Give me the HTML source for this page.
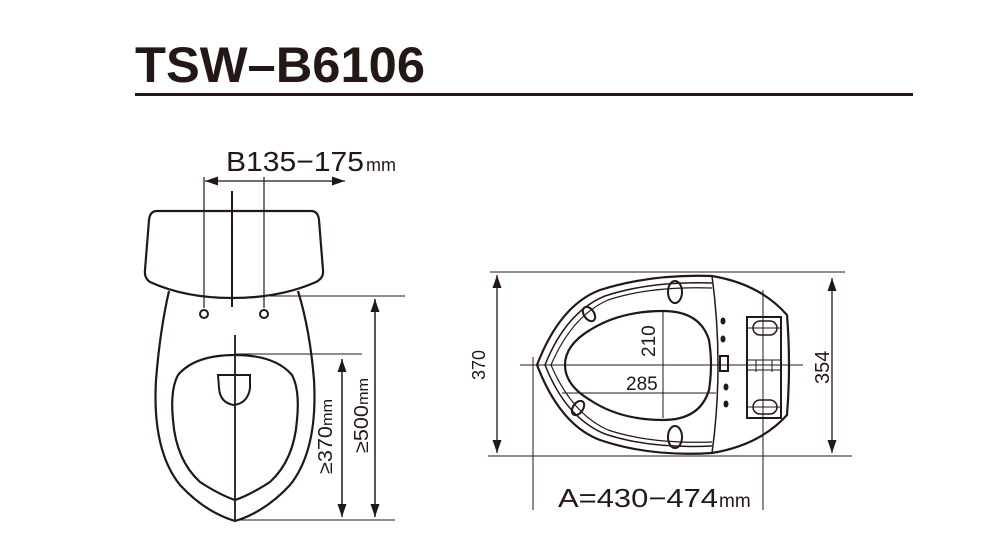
<!DOCTYPE html>
<html><head><meta charset="utf-8"><style>
html,body{margin:0;padding:0;background:#fff;}
svg{display:block;}
text{font-family:"Liberation Sans",sans-serif;fill:#231815;}
</style></head><body>
<svg width="992" height="556" viewBox="0 0 992 556" xmlns="http://www.w3.org/2000/svg">
<defs>
<marker id="a" viewBox="0 0 13 10" refX="13" refY="5" markerWidth="13" markerHeight="10" orient="auto-start-reverse" markerUnits="userSpaceOnUse">
<path d="M0,0.5 L13,5 L0,9.5 Z" fill="#231815"/></marker>
</defs>
<g stroke="#231815" fill="none">
<text x="135" y="82" font-size="50" font-weight="bold" textLength="290" lengthAdjust="spacingAndGlyphs" stroke="none">TSW–B6106</text>
<line x1="135" y1="94.5" x2="913" y2="94.5" stroke-width="3"/>

<text x="226" y="171" font-size="28" stroke="none" textLength="138" lengthAdjust="spacingAndGlyphs">B135−175</text>
<text x="366" y="171" font-size="18" stroke="none">mm</text>
<line x1="205" y1="181" x2="345" y2="181" stroke-width="1.3" marker-start="url(#a)" marker-end="url(#a)"/>
<line x1="204" y1="177" x2="204" y2="308" stroke-width="1.2"/>
<line x1="264" y1="177" x2="264" y2="308" stroke-width="1.2"/>
<path d="M157,211 L311,211 Q318,211 319,220 L323,270 Q324,278 316,282 Q280,298 232,298 Q185,298 150,282 Q144,278 145,270 L149,220 Q150,211 157,211 Z" stroke-width="2.2"/>
<line x1="232" y1="191" x2="232" y2="307" stroke-width="2"/>
<circle cx="204" cy="314" r="4" stroke-width="2"/>
<circle cx="264" cy="314" r="4" stroke-width="2"/>
<path d="M169,291 Q160,330 156,380 Q152,450 180,485 Q205,512 235,521 Q265,512 290,485 Q318,450 314,380 Q310,330 298,291" stroke-width="2.2"/>
<path d="M235,355 Q275,355 292,375 Q300,390 297,420 Q294,460 270,482 Q250,495 235,500 Q220,495 200,482 Q176,460 173,420 Q170,390 178,375 Q195,355 235,355 Z" stroke-width="2.2"/>
<line x1="235" y1="335" x2="235" y2="521" stroke-width="1.8"/>
<path d="M218,375 L250,375 L250,388 Q248,403 234,405 Q220,403 219,388 Z" stroke-width="2"/>
<line x1="270" y1="296" x2="405" y2="296" stroke-width="1"/>
<line x1="235" y1="354" x2="362" y2="354" stroke-width="1"/>
<line x1="235" y1="520" x2="395" y2="520" stroke-width="1"/>
<line x1="342" y1="359" x2="342" y2="517" stroke-width="1.5" marker-start="url(#a)" marker-end="url(#a)"/>
<line x1="375" y1="299" x2="375" y2="517" stroke-width="1.5" marker-start="url(#a)" marker-end="url(#a)"/>
<text transform="translate(332,474) rotate(-90)" font-size="20" stroke="none" textLength="75" lengthAdjust="spacingAndGlyphs">≥370<tspan font-size="15">mm</tspan></text>
<text transform="translate(368,453) rotate(-90)" font-size="20" stroke="none" textLength="75" lengthAdjust="spacingAndGlyphs">≥500<tspan font-size="15">mm</tspan></text>

<line x1="490" y1="272" x2="845" y2="272" stroke-width="1"/>
<line x1="488" y1="456" x2="852" y2="456" stroke-width="1"/>
<line x1="497" y1="275" x2="497" y2="453" stroke-width="1.3" marker-start="url(#a)" marker-end="url(#a)"/>
<line x1="832" y1="278" x2="832" y2="453" stroke-width="1.3" marker-start="url(#a)" marker-end="url(#a)"/>
<text transform="translate(485,380) rotate(-90)" font-size="18" stroke="none">370</text>
<text transform="translate(829,384) rotate(-90)" font-size="20" stroke="none">354</text>
<path d="M712,276 Q650,274 600,290 Q560,305 537,365 Q560,425 600,440 Q650,457 712,453 Q760,445 787,415 Q791,365 787,315 Q760,284 712,276 Z" stroke-width="2.2"/>
<path d="M712,283 Q650,281 605,296 Q566,312 545,365 Q566,418 605,434 Q650,449 712,446" stroke-width="1.5"/>
<path d="M712,288 Q650,286 608,300 Q572,316 551,365 Q572,414 608,430 Q650,444 712,442" stroke-width="1.2"/>
<path d="M712,276 Q718,320 718,365 Q718,410 712,453" stroke-width="1.5"/>
<path d="M663,311 Q700,311 709,340 Q713,365 709,390 Q700,420 663,420 Q620,420 590,400 Q565,385 565,365 Q565,345 590,330 Q620,311 663,311 Z" stroke-width="2.2"/>
<ellipse cx="675" cy="292" rx="7" ry="11" stroke-width="2"/>
<ellipse cx="675" cy="437" rx="7" ry="11" stroke-width="2"/>
<ellipse cx="589" cy="314" rx="5" ry="8" transform="rotate(-35 589 314)" stroke-width="2"/>
<ellipse cx="578" cy="408" rx="5" ry="8" transform="rotate(35 578 408)" stroke-width="2"/>
<g fill="#231815" stroke="none">
<ellipse cx="723" cy="321" rx="2.5" ry="3.5"/><ellipse cx="723" cy="339" rx="2.5" ry="3.5"/>
<ellipse cx="726" cy="387" rx="2.5" ry="3.5"/><ellipse cx="726" cy="404" rx="2.5" ry="3.5"/>
</g>
<rect x="720" y="356" width="8" height="15" stroke-width="2"/>
<rect x="747" y="317" width="34" height="101" stroke-width="2"/>
<rect x="753" y="321" width="24" height="14" rx="7" stroke-width="1.5"/>
<rect x="753" y="400" width="24" height="14" rx="7" stroke-width="1.5"/>
<line x1="747" y1="328" x2="781" y2="328" stroke-width="1"/>
<line x1="747" y1="407" x2="781" y2="407" stroke-width="1"/>
<line x1="747" y1="360" x2="781" y2="360" stroke-width="1"/>
<line x1="747" y1="370" x2="781" y2="370" stroke-width="1"/>
<line x1="756" y1="360" x2="756" y2="372" stroke-width="1"/>
<line x1="772" y1="360" x2="772" y2="372" stroke-width="1"/>
<line x1="520" y1="365" x2="803" y2="365" stroke-width="1"/>
<line x1="562" y1="393" x2="716" y2="393" stroke-width="1"/>
<line x1="663" y1="312" x2="663" y2="418" stroke-width="1"/>
<line x1="533" y1="357" x2="533" y2="510" stroke-width="1"/>
<line x1="763" y1="290" x2="763" y2="510" stroke-width="1"/>
<text transform="translate(655,357) rotate(-90)" font-size="19" stroke="none">210</text>
<text x="626" y="390" font-size="19" stroke="none">285</text>
<text x="558" y="507" font-size="26" stroke="none" textLength="160" lengthAdjust="spacingAndGlyphs">A=430−474</text>
<text x="719" y="507" font-size="19" stroke="none">mm</text>
</g>
</svg>
</body></html>
